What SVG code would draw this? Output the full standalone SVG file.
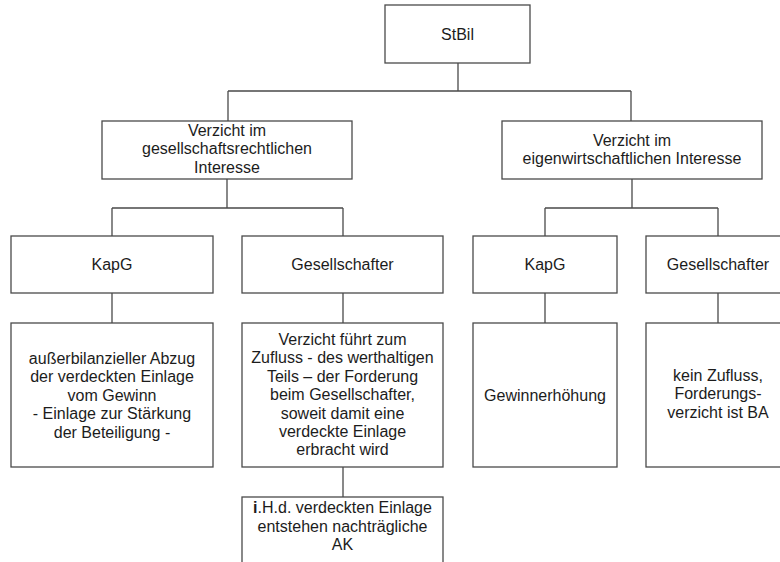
<svg xmlns="http://www.w3.org/2000/svg" width="780" height="562" viewBox="0 0 780 562">
  <style>
    .box { fill: #ffffff; stroke: #4a4a4a; stroke-width: 1.3; }
    .link { fill: none; stroke: #4a4a4a; stroke-width: 1.3; }
    text { font-family: "Liberation Sans", Arial, sans-serif; font-size: 16px; fill: #1c1c1c; text-anchor: middle; }
  </style>
  <rect width="780" height="562" fill="#ffffff"/>

  <!-- connectors -->
  <g id="connectors">
    <path class="link" d="M458 63 V91 M228 91 H631 M228 91 V121 M631 91 V121"/>
    <path class="link" d="M227 179 V208 M112 208 H343 M112 208 V236 M343 208 V236"/>
    <path class="link" d="M632 179 V208 M545 208 H718 M545 208 V236 M718 208 V236"/>
    <path class="link" d="M112 293 V323 M343 293 V323 M545 293 V323 M718 293 V323"/>
    <path class="link" d="M343 467 V497"/>
  </g>

  <g id="stbil">
    <rect class="box" x="385" y="5" width="145" height="58"/>
    <text x="457.5" y="40">StBil</text>
  </g>

  <g id="gesellschaftsrechtlich">
    <rect class="box" x="102" y="121" width="250" height="58"/>
    <text x="227" y="136">Verzicht im</text>
    <text x="227" y="154.4">gesellschaftsrechtlichen</text>
    <text x="227" y="172.8">Interesse</text>
  </g>

  <g id="eigenwirtschaftlich">
    <rect class="box" x="502" y="121" width="260" height="58"/>
    <text x="632" y="146">Verzicht im</text>
    <text x="632" y="164.4">eigenwirtschaftlichen Interesse</text>
  </g>

  <g id="kapg-left">
    <rect class="box" x="11" y="236" width="202" height="57"/>
    <text x="112" y="270">KapG</text>
  </g>

  <g id="gesellschafter-left">
    <rect class="box" x="242" y="236" width="201" height="57"/>
    <text x="342.5" y="270">Gesellschafter</text>
  </g>

  <g id="kapg-right">
    <rect class="box" x="473" y="236" width="144" height="57"/>
    <text x="545" y="270">KapG</text>
  </g>

  <g id="gesellschafter-right">
    <rect class="box" x="646" y="236" width="144" height="57"/>
    <text x="718" y="270">Gesellschafter</text>
  </g>

  <g id="abzug">
    <rect class="box" x="11" y="323" width="202" height="144"/>
    <text x="112" y="364">außerbilanzieller Abzug</text>
    <text x="112" y="382.4">der verdeckten Einlage</text>
    <text x="112" y="400.8">vom Gewinn</text>
    <text x="112" y="419.2">- Einlage zur Stärkung</text>
    <text x="112" y="437.6">der Beteiligung -</text>
  </g>

  <g id="zufluss">
    <rect class="box" x="242" y="323" width="201" height="144"/>
    <text x="342.5" y="345">Verzicht führt zum</text>
    <text x="342.5" y="363.4">Zufluss - des werthaltigen</text>
    <text x="342.5" y="381.8">Teils – der Forderung</text>
    <text x="342.5" y="400.2">beim Gesellschafter,</text>
    <text x="342.5" y="418.6">soweit damit eine</text>
    <text x="342.5" y="437">verdeckte Einlage</text>
    <text x="342.5" y="455.4">erbracht wird</text>
  </g>

  <g id="gewinnerhoehung">
    <rect class="box" x="473" y="323" width="144" height="144"/>
    <text x="545" y="401">Gewinnerhöhung</text>
  </g>

  <g id="kein-zufluss">
    <rect class="box" x="646" y="323" width="144" height="144"/>
    <text x="718" y="381">kein Zufluss,</text>
    <text x="718" y="399.4">Forderungs-</text>
    <text x="718" y="417.8">verzicht ist BA</text>
  </g>

  <g id="nachtraegliche-ak">
    <rect class="box" x="242" y="497" width="201" height="80"/>
    <text x="342.5" y="513"><tspan font-weight="bold">i</tspan>.H.d. verdeckten Einlage</text>
    <text x="342.5" y="531.6">entstehen nachträgliche</text>
    <text x="342.5" y="550.2">AK</text>
  </g>
</svg>
